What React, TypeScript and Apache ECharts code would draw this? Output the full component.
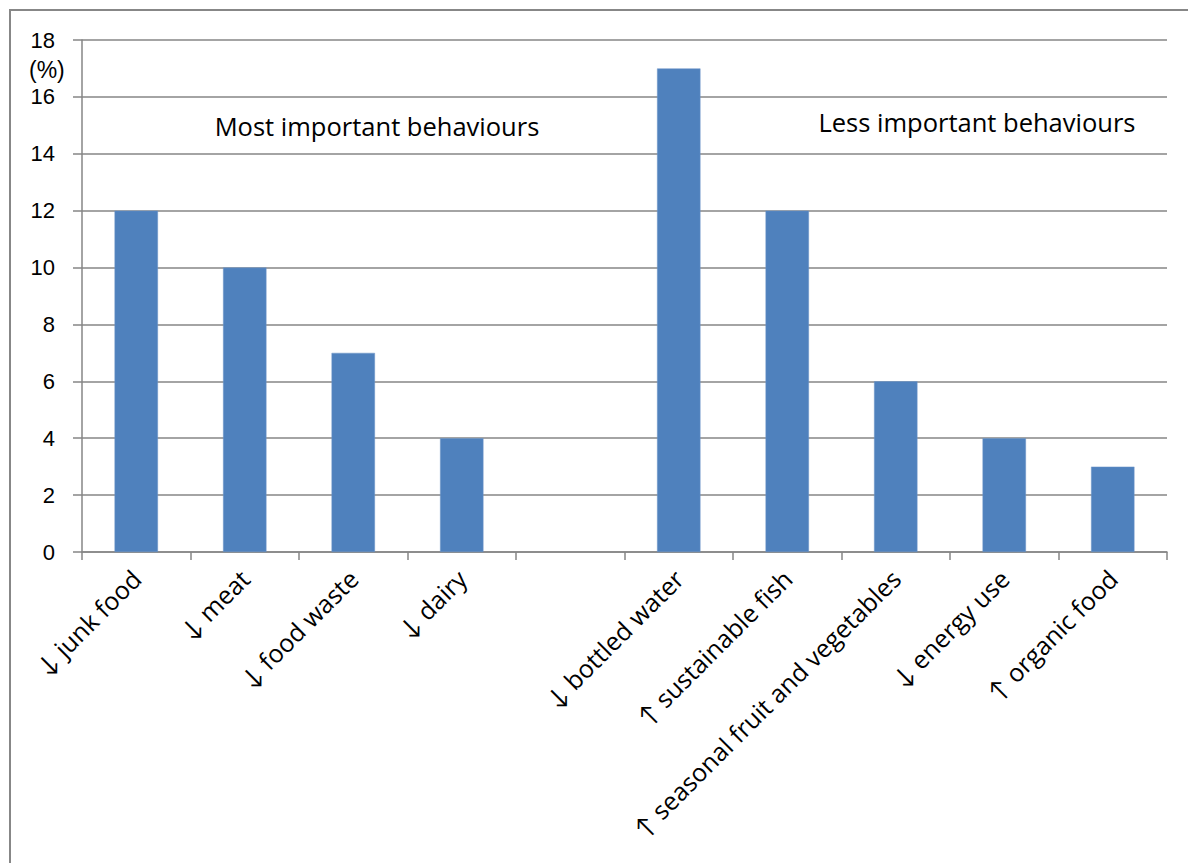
import React, { useEffect, useRef } from "react";
import * as echarts from "echarts";

const categories = [
  "↓ junk food",
  "↓ meat",
  "↓ food waste",
  "↓ dairy",
  "",
  "↓ bottled water",
  "↑ sustainable fish",
  "↑ seasonal fruit and vegetables",
  "↓ energy use",
  "↑ organic food",
];
const shares: (number | null)[] = [12, 10, 7, 4, null, 17, 12, 6, 4, 3];
const yTicks = { min: 0, max: 18, interval: 2 };
const unitLabel = "(%)";
const groupLabels = ["Most important behaviours", "Less important behaviours"];

const FONT = "'Open Sans', Lato, sans-serif";
// compact face for the crowded value axis
const AXIS_FONT = "'Liberation Sans', Arial, sans-serif";
const GRID_LEFT = 82;
const GRID_RIGHT = 1188 - 1167;
const GRID_TOP = 40;
const GRID_BOTTOM = 863 - 552;

export default function App() {
  const ref = useRef<HTMLDivElement>(null);

  useEffect(() => {
    if (!ref.current) return;
    const chart = echarts.init(ref.current, undefined, { renderer: "svg" });
    chart.setOption({
      animation: false,
      backgroundColor: "#ffffff",
      textStyle: { fontFamily: FONT, color: "#000" },
      grid: { left: GRID_LEFT, right: GRID_RIGHT, top: GRID_TOP, bottom: GRID_BOTTOM },
      xAxis: {
        type: "category",
        data: categories,
        boundaryGap: true,
        axisLine: { lineStyle: { color: "#868686", width: 1.5 } },
        axisTick: { show: true, alignWithLabel: false, length: 8, lineStyle: { color: "#868686", width: 1.5 } },
        axisLabel: {
          rotate: 45,
          interval: 0,
          margin: 22,
          fontSize: 25,
          fontFamily: FONT,
          color: "#000",
        },
      },
      yAxis: {
        type: "value",
        min: yTicks.min,
        max: yTicks.max,
        interval: yTicks.interval,
        axisLine: { show: true, lineStyle: { color: "#868686", width: 1.5 } },
        axisTick: { show: true, length: 9, lineStyle: { color: "#868686", width: 1.5 } },
        splitLine: { lineStyle: { color: "#868686", width: 1.5 } },
        axisLabel: { margin: 27, fontSize: 22, fontFamily: AXIS_FONT, color: "#000" },
      },
      series: [
        {
          type: "bar",
          data: shares,
          barWidth: "40%",
          itemStyle: { color: "#4F81BD", borderColor: "#6f97c8", borderWidth: 0.5 },
        },
      ],
      graphic: [
        {
          type: "rect",
          shape: { x: 10, y: 10, width: 1200, height: 900 },
          style: { fill: "none", stroke: "#878787", lineWidth: 2 },
          silent: true,
        },
        {
          type: "text",
          x: 29,
          y: 70,
          style: { text: unitLabel, font: `23px ${AXIS_FONT}`, fill: "#000", textVerticalAlign: "middle" },
        },
        {
          type: "text",
          x: 377,
          y: 126,
          style: {
            text: groupLabels[0],
            font: `25.5px ${FONT}`,
            fill: "#000",
            textAlign: "center",
            textVerticalAlign: "middle",
          },
        },
        {
          type: "text",
          x: 977,
          y: 122,
          style: {
            text: groupLabels[1],
            font: `25.5px ${FONT}`,
            fill: "#000",
            textAlign: "center",
            textVerticalAlign: "middle",
          },
        },
      ],
    });
    return () => chart.dispose();
  }, []);

  return (
    <div
      ref={ref}
      style={{ position: "fixed", left: 0, top: 0, width: 1188, height: 863 }}
    />
  );
}
